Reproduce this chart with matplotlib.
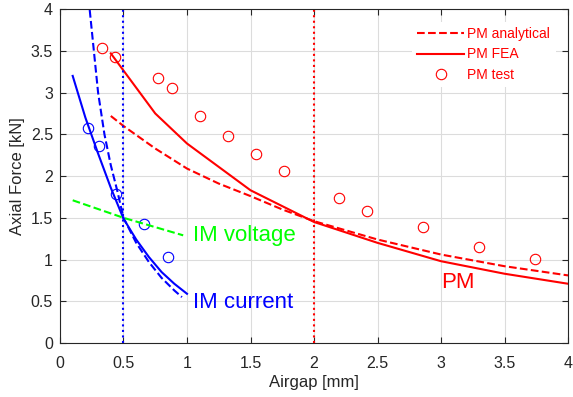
import numpy as np
from matplotlib import pyplot as plt

plt.rcParams['font.family'] = ['Liberation Sans', 'DejaVu Sans']

# -------------------------------------------------------------------
# PM curves
pm_an_x = [0.4, 0.5, 0.75, 1.0, 1.25, 1.5, 1.75, 2.0, 2.5, 3.0, 3.5, 4.0]
pm_an_y = [2.72, 2.60, 2.33, 2.09, 1.91, 1.76, 1.60, 1.46, 1.24, 1.06, 0.92, 0.81]

pm_fea_x = [0.4, 0.75, 1.0, 1.5, 2.0, 2.5, 3.0, 3.5, 4.0]
pm_fea_y = [3.47, 2.75, 2.39, 1.83, 1.45, 1.20, 0.98, 0.83, 0.71]

pm_test_x = [0.33, 0.43, 0.77, 0.88, 1.10, 1.32, 1.54, 1.76, 2.20, 2.42, 2.86, 3.30, 3.74]
pm_test_y = [3.54, 3.43, 3.18, 3.05, 2.72, 2.48, 2.26, 2.06, 1.74, 1.58, 1.39, 1.15, 1.01]

# IM curves
im_cur_x = [0.1, 0.2, 0.3, 0.4, 0.5, 0.6, 0.7, 0.8, 0.9, 1.0]
im_cur_y = [3.20, 2.70, 2.27, 1.86, 1.49, 1.24, 1.03, 0.85, 0.71, 0.59]

im_cur_an_x = [0.22, 0.25, 0.3, 0.35, 0.4, 0.45, 0.5, 0.6, 0.7, 0.8, 0.9, 0.96]
im_cur_an_y = [4.2, 3.75, 3.0, 2.5, 2.13, 1.83, 1.50, 1.20, 0.97, 0.78, 0.63, 0.55]

im_test_x = [0.22, 0.31, 0.44, 0.66, 0.85]
im_test_y = [2.58, 2.36, 1.79, 1.42, 1.03]

im_volt_x = [0.1, 0.5, 0.97]
im_volt_y = [1.71, 1.50, 1.29]

limits = [0.5, 2.0]   # IM / PM airgap limits

# -------------------------------------------------------------------
fig = plt.figure(figsize=(5.73, 3.97), dpi=100)
ax = fig.add_axes([0.1047, 0.136, 0.8866, 0.841])

red = '#ff0000'
blue = '#0000ff'
green = '#00ff00'

ax.plot(pm_an_x, pm_an_y, '--', color=red, lw=1.5, label='PM analytical')
ax.plot(pm_fea_x, pm_fea_y, '-', color=red, lw=1.5, label='PM FEA')
ax.plot(pm_test_x, pm_test_y, 'o', mfc='none', mec=red, ms=7.5, mew=0.8, label='PM test')

ax.plot(im_cur_an_x, im_cur_an_y, '--', color=blue, lw=1.5)
ax.plot(im_cur_x, im_cur_y, '-', color=blue, lw=1.5)
ax.plot(im_test_x, im_test_y, 'o', mfc='none', mec=blue, ms=7.5, mew=0.8)
ax.plot(im_volt_x, im_volt_y, '--', color=green, lw=1.5)

ax.axvline(limits[0], color=blue, ls=':', lw=1.5)
ax.axvline(limits[1], color=red, ls=':', lw=1.5)

ax.text(1.05, 1.29, 'IM voltage', color=green, fontsize=16, va='center')
ax.text(1.05, 0.48, 'IM current', color=blue, fontsize=16, va='center')
ax.text(3.0, 0.73, 'PM', color=red, fontsize=16, va='center')

ax.set_xlim(0, 4)
ax.set_ylim(0, 4)
ax.set_xticks(np.arange(0, 4.01, 0.5))
ax.set_yticks(np.arange(0, 4.01, 0.5))
ax.set_xticklabels(['0', '0.5', '1', '1.5', '2', '2.5', '3', '3.5', '4'])
ax.set_yticklabels(['0', '0.5', '1', '1.5', '2', '2.5', '3', '3.5', '4'])
ax.tick_params(direction='in', length=4, labelsize=11.5, colors='#262626',
               top=True, right=True)
ax.tick_params(axis='x', pad=9)
ax.tick_params(axis='y', pad=5)
ax.grid(True, color='#dcdcdc', lw=0.8)
ax.set_axisbelow(True)
for s in ax.spines.values():
    s.set_color('#262626')
    s.set_linewidth(0.8)

ax.set_xlabel('Airgap [mm]', fontsize=12, color='#262626', labelpad=3)
ax.set_ylabel('Axial Force [kN]', fontsize=12, color='#262626', labelpad=4)

leg = ax.legend(loc='upper right', fontsize=10, frameon=True, handlelength=3.4,
                handletextpad=0.2, labelspacing=0.45, borderaxespad=0.9)
leg.get_frame().set_edgecolor('none')
leg.get_frame().set_alpha(1)
for t in leg.get_texts():
    t.set_color(red)

fig.savefig('out.png', dpi=100)
